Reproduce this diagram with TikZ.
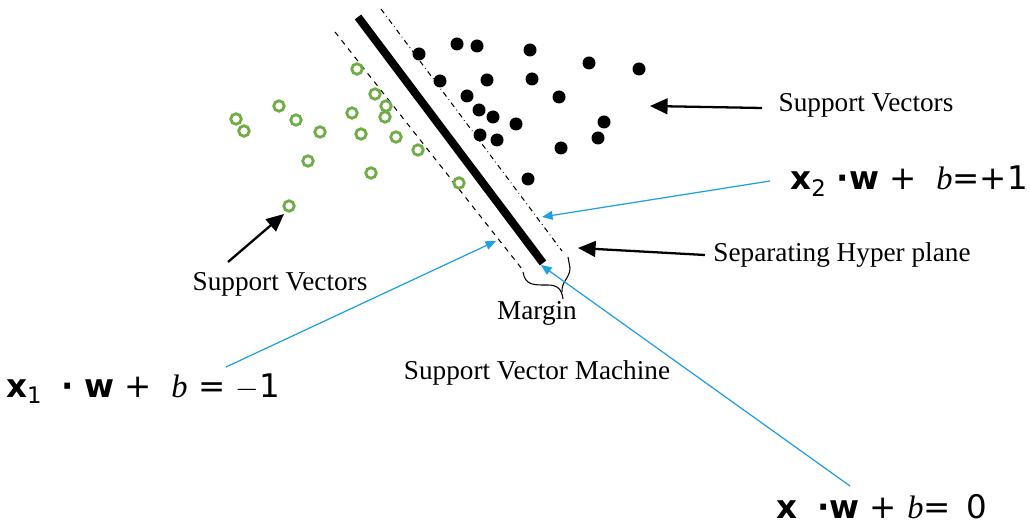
\documentclass[tikz,border=0pt]{standalone}
\usepackage{fontspec}
\setmainfont{Liberation Serif}
\newfontfamily\eqfont{DejaVu Sans}
\usetikzlibrary{arrows.meta}
\definecolor{svgreen}{RGB}{112,173,71}
\definecolor{svblue}{RGB}{30,160,225}

\begin{document}
\begin{tikzpicture}[x=0.02cm, y=-0.02cm,
    posdot/.style={circle, fill=black, inner sep=0pt, minimum size=0.26cm},
    negdot/.style={circle, draw=svgreen, line width=1.6pt, inner sep=0pt, minimum size=0.21cm},
    lbl/.style={font=\fontsize{15.5}{17}\selectfont, inner sep=0pt},
    eq/.style={font=\eqfont\fontsize{18.5}{22}\selectfont, inner sep=0pt},
    blk/.style={-{Triangle[length=10pt, width=9pt]}, line width=1.3pt},
    blu/.style={svblue, -{Triangle[length=6pt, width=5pt]}, line width=0.7pt}]
  \useasboundingbox (0,0) rectangle (1030,526);

  \coordinate (hp1) at (358,17);
  \coordinate (hp2) at (543,263);
  \coordinate (m1a) at (335,32);
  \coordinate (m1b) at (522,269);
  \coordinate (m2a) at (381,9);
  \coordinate (m2b) at (562,251);
  \draw[line width=4.6pt] (hp1) -- (hp2);
  \draw[dashed, line width=0.6pt] (m1a) -- (m1b);
  \draw[dash dot, line width=0.6pt] (m2a) -- (m2b);

  \foreach \x/\y [count=\i] in {419/54, 457/44, 477/46, 530/50, 589/63, 639/69,
      440/81, 487/80, 532/79, 467/96, 559/97, 479/110, 493/117, 516/124,
      604/122, 480/135, 497/140, 598/138, 561/148, 528/179}
    \node[posdot] (p\i) at (\x,\y) {};

  \foreach \x/\y [count=\i] in {357/69, 375/94, 386/106, 352/113, 385/117,
      279/106, 236/119, 296/120, 244/131, 320/132, 361/134, 396/137,
      418/150, 308/161, 371/173, 459/183, 289/206}
    \node[negdot] (n\i) at (\x,\y) {};

  % margin brace
  \draw[line width=0.6pt] (523,272) .. controls (525,286) and (535,285) .. (548,285)
    .. controls (558,285) and (562,290) .. (563,299);
  \draw[line width=0.6pt] (562,292) .. controls (561,282) and (570,278) .. (570,268)
    -- (568,257);

  \node[lbl] (svr) at (866,105) {Support Vectors};
  \node[lbl] (svl) at (280,284) {Support Vectors};
  \node[lbl] (shp) at (842,255) {Separating Hyper plane};
  \node[lbl] (mrg) at (537,313) {Margin};
  \node[lbl] (svm) at (537,373) {Support Vector Machine};

  \node[eq] (eq2) at (909,181) {\textbf{x}\textsubscript{2} \textbf{·w} + \;\textit{\rmfamily b}=+1};
  \node[eq] (eq1) at (143,389) {\textbf{x}\textsubscript{1}\; \textbf{·} \textbf{w} + \;\textit{\rmfamily b} = $-$1};
  \node[eq] (eq0) at (882,507) {\textbf{x} \;\textbf{·w} + \textit{\rmfamily b}= \,0};

  \coordinate (a1s) at (762,108);
  \coordinate (a1e) at (650,106);
  \coordinate (a2s) at (705,255);
  \coordinate (a2e) at (578,248);
  \coordinate (a3s) at (228,262);
  \coordinate (a3e) at (284,214);
  \draw[blk] (a1s) -- (a1e);
  \draw[blk] (a2s) -- (a2e);
  \draw[blk] (a3s) -- (a3e);

  \coordinate (b1s) at (770,181);
  \coordinate (b1e) at (542,217);
  \coordinate (b2s) at (226,367);
  \coordinate (b2e) at (496,241);
  \coordinate (b3s) at (850,486);
  \coordinate (b3e) at (541,265);
  \draw[blu] (b1s) -- (b1e);
  \draw[blu] (b2s) -- (b2e);
  \draw[blu] (b3s) -- (b3e);
\end{tikzpicture}
\end{document}
